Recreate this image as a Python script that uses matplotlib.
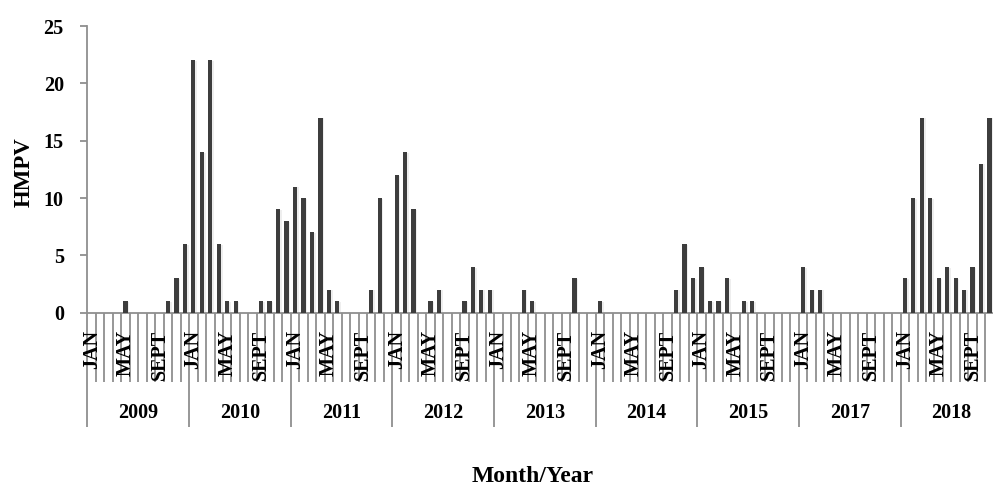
import numpy as np
import matplotlib.pyplot as plt
import matplotlib.patheffects as pe

# monthly HMPV counts per year (2018 December not shown)
years = ['2009', '2010', '2011', '2012', '2013', '2014', '2015', '2017', '2018']
hmpv_2009 = [0, 0, 0, 0, 1, 0, 0, 0, 0, 1, 3, 6]
hmpv_2010 = [22, 14, 22, 6, 1, 1, 0, 0, 1, 1, 9, 8]
hmpv_2011 = [11, 10, 7, 17, 2, 1, 0, 0, 0, 2, 10, 0]
hmpv_2012 = [12, 14, 9, 0, 1, 2, 0, 0, 1, 4, 2, 2]
hmpv_2013 = [0, 0, 0, 2, 1, 0, 0, 0, 0, 3, 0, 0]
hmpv_2014 = [1, 0, 0, 0, 0, 0, 0, 0, 0, 2, 6, 3]
hmpv_2015 = [4, 1, 1, 3, 0, 1, 1, 0, 0, 0, 0, 0]
hmpv_2017 = [4, 2, 2, 0, 0, 0, 0, 0, 0, 0, 0, 0]
hmpv_2018 = [3, 10, 17, 10, 3, 4, 3, 2, 4, 13, 17]

month_labels = ['JAN', 'MAY', 'SEPT']
month_label_idx = [0, 4, 8]

values = (hmpv_2009 + hmpv_2010 + hmpv_2011 + hmpv_2012 + hmpv_2013
          + hmpv_2014 + hmpv_2015 + hmpv_2017 + hmpv_2018)
n_slots = 12 * len(years)

plt.rcParams['font.family'] = ['Liberation Serif', 'DejaVu Serif']

fig = plt.figure(figsize=(9.93, 4.87), dpi=100)
ax = fig.add_axes([0.0881, 0.3579, 0.9212, 0.5887])

x = np.arange(len(values)) + 0.5
bars = ax.bar(x, values, width=0.5, color='#3d3d3d', zorder=3)
for b in bars:
    b.set_path_effects([pe.SimplePatchShadow(offset=(1.2, -0.5), shadow_rgbFace='#aaaaaa', alpha=0.2),
                        pe.Normal()])

ax.set_xlim(0, n_slots)
ax.set_ylim(0, 25)
ax.set_yticks(range(0, 26, 5))
ax.set_xticks([])

gray = '#8f8f8f'
for side in ['top', 'right']:
    ax.spines[side].set_visible(False)
for side in ['left', 'bottom']:
    ax.spines[side].set_color(gray)
    ax.spines[side].set_linewidth(1.3)
ax.tick_params(axis='y', direction='out', length=5, width=1.3, color=gray,
               pad=12, labelsize=14.5)
for lab in ax.get_yticklabels():
    lab.set_fontweight('bold')

# category separators under the axis
tr = ax.get_xaxis_transform()
month_edges = [k for k in range(n_slots + 1) if k % 12]
year_edges = list(range(0, n_slots + 1, 12))
ax.vlines(month_edges, -0.242, 0, transform=tr, colors=gray, lw=1.3, clip_on=False)
ax.vlines(year_edges, -0.40, 0, transform=tr, colors=gray, lw=1.3, clip_on=False)

for yi, yr in enumerate(years):
    for lab, mi in zip(month_labels, month_label_idx):
        ax.text(yi * 12 + mi + 0.5, -0.06, lab, transform=tr, rotation=90,
                ha='center', va='top', fontsize=14.5, fontweight='bold')
    ax.text(yi * 12 + 6, -0.35, yr, transform=tr, ha='center', va='center',
            fontsize=14.5, fontweight='bold')

fig.text(0.536, 0.022, 'Month/Year', ha='center', va='center',
         fontsize=17, fontweight='bold')
fig.text(0.024, 0.647, 'HMPV', rotation=90, ha='center', va='center',
         fontsize=16.5, fontweight='bold')

fig.savefig('out.png', dpi=100)
